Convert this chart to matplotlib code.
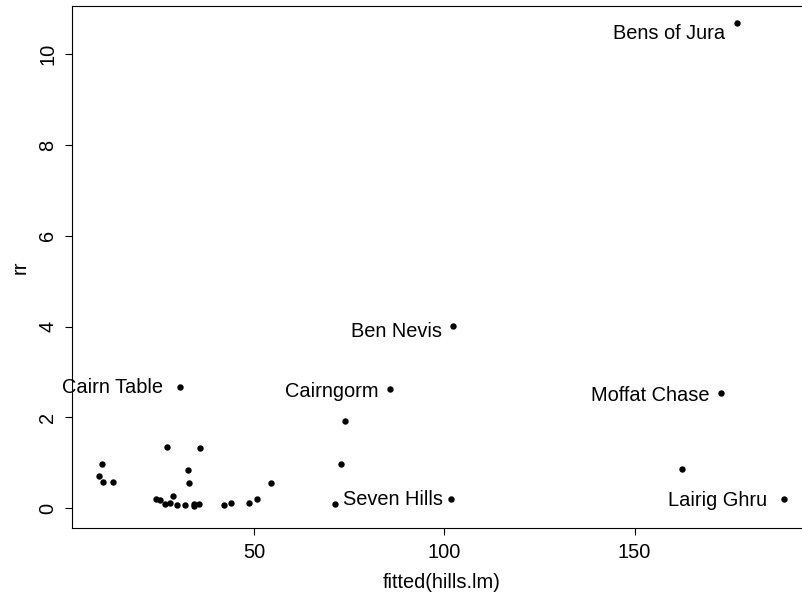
import matplotlib
matplotlib.use("Agg")
import matplotlib.pyplot as plt

# fitted values of the hills regression and the residual ratio rr
fitted = [9.9, 9.2, 10.1, 12.7, 27.0, 35.6, 32.4, 32.9, 54.3,
          24.2, 25.2, 28.7, 26.5, 27.8, 29.6, 31.8, 34.0, 34.2, 35.3,
          41.9, 43.8, 48.6, 50.7,
          30.5, 85.7, 73.9, 72.9, 71.3, 101.7, 102.2, 172.8, 162.5,
          189.4, 176.9]
rr = [0.97, 0.71, 0.57, 0.57, 1.34, 1.32, 0.84, 0.55, 0.55,
      0.20, 0.18, 0.26, 0.095, 0.12, 0.066, 0.066, 0.095, 0.044, 0.095,
      0.066, 0.12, 0.11, 0.20,
      2.67, 2.62, 1.93, 0.97, 0.10, 0.20, 4.02, 2.53, 0.86,
      0.20, 10.68]

# identified races: index into fitted/rr
names = {23: "Cairn Table", 24: "Cairngorm", 28: "Seven Hills",
         29: "Ben Nevis", 30: "Moffat Chase", 32: "Lairig Ghru",
         33: "Bens of Jura"}

# label offsets from the point, in pixels (right-aligned text)
offsets = {23: (-17.3, 0.0), 24: (-11.0, -2.2), 28: (-8.4, -0.4),
           29: (-11.0, -5.5), 30: (-12.0, -2.5), 32: (-16.7, -1.2),
           33: (-11.7, -10.0)}

W, H, DPI = 803, 592, 100
plt.rcParams["font.family"] = ["Liberation Sans", "DejaVu Sans"]
plt.rcParams["font.size"] = 14.4

fig = plt.figure(figsize=(W / DPI, H / DPI), dpi=DPI)
# plot region runs off the right edge of the figure
left, right, top, bottom = 72, 812, 6, 528
ax = fig.add_axes([left / W, (H - bottom) / H, (right - left) / W,
                   (bottom - top) / H])

ax.plot(fitted, rr, "o", color="black", ms=4.6, mew=0)

pt = 72 / DPI
for i, name in names.items():
    dx, dy = offsets[i]
    ax.annotate(name, xy=(fitted[i], rr[i]), xytext=(dx * pt, dy * pt),
                textcoords="offset points", ha="right", va="center",
                fontsize=14.4)

ax.set_xlim(2.0, 196.7)
ax.set_ylim(-0.434, 11.06)
ax.set_xticks([50, 100, 150])
ax.set_yticks([0, 2, 4, 6, 8, 10])

for s in ax.spines.values():
    s.set_linewidth(0.8)
ax.spines["right"].set_visible(False)
ax.tick_params(length=5, width=0.8, pad=5.5, labelsize=14.4)
ax.tick_params(axis="y", labelrotation=90)
for t in ax.get_yticklabels():
    t.set_va("center")

ax.set_xlabel("fitted(hills.lm)", labelpad=8)
ax.set_ylabel("rr", labelpad=6)

fig.savefig("out.png", dpi=DPI)
